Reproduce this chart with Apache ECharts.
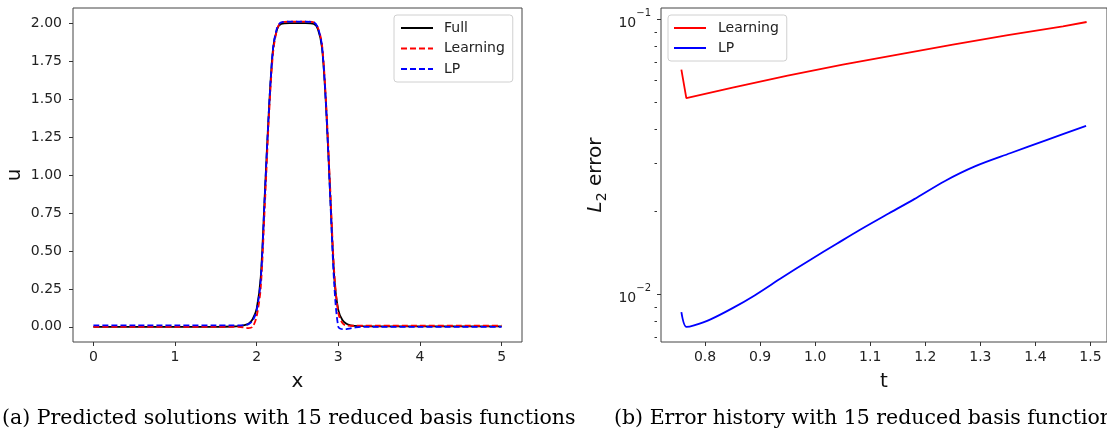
<!DOCTYPE html>
<html>
<head>
<meta charset="utf-8">
<script src="https://cdn.jsdelivr.net/npm/echarts@6/dist/echarts.min.js"></script>
<style>
html,body{margin:0;padding:0;background:#fff;}
#chart{width:1107px;height:432px;}
</style>
</head>
<body>
<div id="chart"></div>
<script>
// ---- Data (left panel: predicted solutions) ----
const X_VALUES = [0, 0.5, 1.0, 1.5, 1.7, 1.8, 1.85, 1.9, 1.95, 2.0, 2.05, 2.1, 2.15, 2.2, 2.25, 2.3, 2.4, 2.5, 2.6, 2.7, 2.75, 2.8, 2.85, 2.9, 2.95, 3.0, 3.05, 3.1, 3.15, 3.2, 3.3, 3.5, 4.0, 4.5, 5.0];
const U_FULL = [0, 0, 0, 0, 0.002, 0.006, 0.011, 0.02, 0.05, 0.12, 0.33, 0.88, 1.43, 1.83, 1.96, 1.995, 2.0, 2.0, 2.0, 1.995, 1.96, 1.84, 1.45, 0.88, 0.33, 0.11, 0.045, 0.02, 0.01, 0.006, 0.004, 0.003, 0.003, 0.003, 0.003];
const U_LEARNING = [0.0, 0.0, 0.0, 0.0, 0.0, -0.002, -0.005, -0.008, 0.0, 0.07, 0.26, 0.80, 1.38, 1.80, 1.96, 2.005, 2.01, 2.01, 2.01, 2.005, 1.97, 1.86, 1.48, 0.92, 0.36, 0.09, 0.025, 0.008, 0.007, 0.007, 0.007, 0.007, 0.007, 0.007, 0.007];
const U_LP = [0.01, 0.01, 0.01, 0.01, 0.01, 0.01, 0.012, 0.018, 0.04, 0.11, 0.31, 0.87, 1.43, 1.83, 1.97, 2.005, 2.01, 2.01, 2.01, 2.005, 1.97, 1.85, 1.45, 0.86, 0.28, 0.0, -0.015, -0.015, -0.01, -0.005, 0.0, 0.0, 0.0, 0.0, 0.0];
const X_TICKS = [0, 1, 2, 3, 4, 5];
const U_TICKS = [0, 0.25, 0.5, 0.75, 1.0, 1.25, 1.5, 1.75, 2.0];

// ---- Data (right panel: error history) ----
const T_LEARNING = [0.757, 0.766, 0.85, 0.95, 1.05, 1.15, 1.25, 1.35, 1.45, 1.493];
const ERR_LEARNING = [0.0657, 0.0518, 0.0565, 0.0625, 0.0685, 0.0745, 0.081, 0.0878, 0.0945, 0.098];
const T_LP = [0.757, 0.766, 0.78, 0.81, 0.85, 0.89, 0.94, 0.99, 1.04, 1.08, 1.13, 1.18, 1.235, 1.29, 1.354, 1.42, 1.492];
const ERR_LP = [0.0086, 0.0076, 0.0077, 0.0081, 0.0089, 0.0099, 0.0115, 0.0133, 0.0153, 0.0171, 0.0195, 0.0222, 0.0258, 0.0292, 0.0326, 0.0364, 0.0410];
const T_TICKS = [0.8, 0.9, 1.0, 1.1, 1.2, 1.3, 1.4, 1.5];
const ERR_MAJOR_TICKS = [0.01, 0.1];
const ERR_MINOR_TICKS = [0.007, 0.008, 0.009, 0.02, 0.03, 0.04, 0.05, 0.06, 0.07, 0.08, 0.09];

const CAPTION_A = '(a) Predicted solutions with 15 reduced basis functions';
const CAPTION_B = '(b) Error history with 15 reduced basis functions';

function pairs(xs, ys) { return xs.map((x, i) => [x, ys[i]]); }

const SANS = 'DejaVu Sans';
const tickLabel = { fontFamily: SANS, fontSize: 14, color: '#222' };
const tick = { show: true, length: 4, lineStyle: { color: '#333', width: 1 } };
const noLine = { show: false, onZero: false };
const hiddenSym = { color: 'rgba(0,0,0,0)', borderColor: 'rgba(0,0,0,0)', borderWidth: 0 };
const RIGHT_GRID_W = 450;

const chart = echarts.init(document.getElementById('chart'), null, { renderer: 'canvas' });

const option = {
  animation: false,
  backgroundColor: '#fff',
  title: [
    { text: CAPTION_A, left: 2, top: 408, padding: 0,
      textStyle: { fontFamily: 'DejaVu Serif', fontSize: 20.5, fontWeight: 'normal', color: '#000' } },
    { text: CAPTION_B, left: 614, top: 408, padding: 0,
      textStyle: { fontFamily: 'DejaVu Serif', fontSize: 20.5, fontWeight: 'normal', color: '#000' } }
  ],
  grid: [
    { left: 73, top: 8, width: 449, height: 334, show: true, borderColor: '#444', borderWidth: 1, backgroundColor: 'transparent' },
    { left: 661, top: 8, width: RIGHT_GRID_W, height: 334, show: true, borderColor: '#444', borderWidth: 1, backgroundColor: 'transparent' }
  ],
  legend: [
    { data: ['Full', 'Learning', 'LP'], orient: 'vertical', left: 394, top: 15,
      itemWidth: 32, itemHeight: 14, itemGap: 6.5, padding: [6, 8, 6, 6],
      backgroundColor: '#fff', borderColor: '#d0d0d0', borderWidth: 1, borderRadius: 3,
      itemStyle: hiddenSym,
      textStyle: { fontFamily: SANS, fontSize: 14, color: '#222', padding: [0, 0, 0, 6] } },
    { data: ['Learning ', 'LP '], orient: 'vertical', left: 668, top: 15,
      itemWidth: 32, itemHeight: 14, itemGap: 6, padding: [6, 8, 6, 5],
      backgroundColor: '#fff', borderColor: '#d0d0d0', borderWidth: 1, borderRadius: 3,
      itemStyle: hiddenSym,
      textStyle: { fontFamily: SANS, fontSize: 14, color: '#222', padding: [0, 0, 0, 7] },
      formatter: n => n.trim() }
  ],
  xAxis: [
    { type: 'value', gridIndex: 0, min: -0.25, max: 5.25, position: 'bottom',
      name: 'x', nameLocation: 'middle', nameGap: 30,
      nameTextStyle: { fontFamily: SANS, fontSize: 20, color: '#111' },
      axisLine: noLine, splitLine: { show: false },
      axisTick: Object.assign({ customValues: X_TICKS }, tick),
      axisLabel: Object.assign({ customValues: X_TICKS, margin: 8, formatter: v => String(v) }, tickLabel) },
    { type: 'value', gridIndex: 1, min: 0.72, max: 1.53, position: 'bottom',
      name: 't', nameLocation: 'middle', nameGap: 30,
      nameTextStyle: { fontFamily: SANS, fontSize: 20, color: '#111' },
      axisLine: noLine, splitLine: { show: false },
      axisTick: Object.assign({ customValues: T_TICKS }, tick),
      axisLabel: Object.assign({ customValues: T_TICKS, margin: 8, formatter: v => v.toFixed(1) }, tickLabel) }
  ],
  yAxis: [
    { type: 'value', gridIndex: 0, min: -0.1, max: 2.1, position: 'left',
      name: 'u', nameLocation: 'middle', nameGap: 48,
      nameTextStyle: { fontFamily: SANS, fontSize: 20, color: '#111' },
      axisLine: noLine, splitLine: { show: false },
      axisTick: Object.assign({ customValues: U_TICKS }, tick),
      axisLabel: Object.assign({ customValues: U_TICKS, margin: 11, formatter: v => v.toFixed(2) }, tickLabel) },
    { type: 'log', gridIndex: 1, min: 0.0067, max: 0.1102, logBase: 10, position: 'left',
      name: '{i|L}{s|2}{n| error}', nameLocation: 'middle', nameGap: 52,
      nameTextStyle: { fontFamily: SANS, fontSize: 20, color: '#111',
        rich: {
          i: { fontFamily: SANS, fontSize: 20, fontStyle: 'italic', color: '#111', lineHeight: 26, verticalAlign: 'middle' },
          s: { fontFamily: SANS, fontSize: 14, color: '#111', lineHeight: 26, verticalAlign: 'bottom' },
          n: { fontFamily: SANS, fontSize: 20, color: '#111', lineHeight: 26, verticalAlign: 'middle' }
        } },
      axisLine: noLine, splitLine: { show: false },
      axisTick: Object.assign({ customValues: ERR_MAJOR_TICKS }, tick),
      axisLabel: { customValues: ERR_MAJOR_TICKS, margin: 10,
        formatter: v => '{b|10}{s|\u2212' + Math.round(-Math.log10(v)) + '}',
        rich: {
          b: { fontFamily: SANS, fontSize: 14, color: '#222', lineHeight: 22, verticalAlign: 'bottom' },
          s: { fontFamily: SANS, fontSize: 10, color: '#222', lineHeight: 22, verticalAlign: 'top' }
        } } },
    // minor ticks of the log axis: second axis is placed on the right by the grid, shifted back onto the left spine
    { type: 'log', gridIndex: 1, min: 0.0067, max: 0.1102, logBase: 10, position: 'right', offset: -RIGHT_GRID_W,
      axisLine: noLine, splitLine: { show: false },
      axisTick: { show: true, inside: true, length: 2.5, customValues: ERR_MINOR_TICKS, lineStyle: { color: '#333', width: 1 } },
      axisLabel: { show: false } }
  ],
  series: [
    { name: 'Full', type: 'line', xAxisIndex: 0, yAxisIndex: 0, data: pairs(X_VALUES, U_FULL),
      symbol: 'none', smooth: 0.3, z: 2,
      lineStyle: { color: '#000', width: 1.8, type: 'solid' }, itemStyle: { color: '#000' } },
    { name: 'Learning', type: 'line', xAxisIndex: 0, yAxisIndex: 0, data: pairs(X_VALUES, U_LEARNING),
      symbol: 'none', smooth: 0.3, z: 3,
      lineStyle: { color: '#ff0000', width: 1.8, type: [6, 3] }, itemStyle: { color: '#ff0000' } },
    { name: 'LP', type: 'line', xAxisIndex: 0, yAxisIndex: 0, data: pairs(X_VALUES, U_LP),
      symbol: 'none', smooth: 0.3, z: 4,
      lineStyle: { color: '#0000ff', width: 1.8, type: [6, 3] }, itemStyle: { color: '#0000ff' } },
    { name: 'Learning ', type: 'line', xAxisIndex: 1, yAxisIndex: 1, data: pairs(T_LEARNING, ERR_LEARNING),
      symbol: 'none', lineStyle: { color: '#ff0000', width: 1.8 }, itemStyle: { color: '#ff0000' } },
    { name: 'LP ', type: 'line', xAxisIndex: 1, yAxisIndex: 1, data: pairs(T_LP, ERR_LP),
      symbol: 'none', smooth: 0.3, lineStyle: { color: '#0000ff', width: 1.8 }, itemStyle: { color: '#0000ff' } }
  ]
};
chart.setOption(option);
</script>
</body>
</html>
